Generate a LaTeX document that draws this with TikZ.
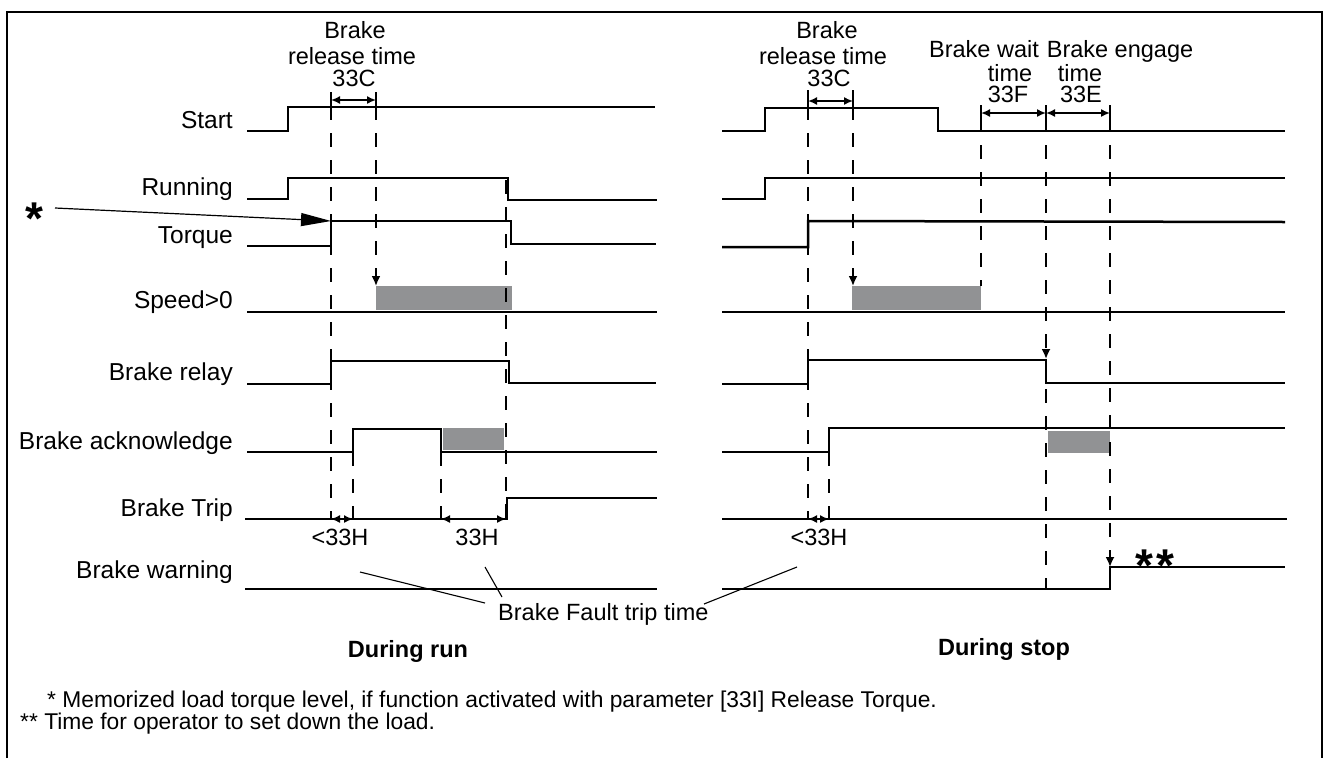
\documentclass[tikz,border=0pt]{standalone}
\usepackage{fontspec}
\setmainfont{Liberation Sans}
\newfontfamily\boldsans{Liberation Sans Bold}
\usetikzlibrary{arrows.meta}
\definecolor{boxgray}{RGB}{145,146,148}
\newcommand\lblfont{\fontsize{24.5}{28}\selectfont}
\newcommand\txfont{\fontsize{23.5}{28}\selectfont}
\newcommand\fnfont{\fontsize{22.8}{27}\selectfont}
\tikzset{
  sig/.style={line width=2.5pt, line join=miter},
  dsh/.style={line width=1.9pt, dash pattern=on 14pt off 13pt},
  dimarr/.style={line width=1.6pt, {Latex[length=9pt,width=8pt]}-{Latex[length=9pt,width=8pt]}},
  downarr/.style={line width=1.9pt, dash pattern=on 14pt off 13pt, -{Latex[length=10pt,width=9pt]}},
  tick/.style={line width=1.6pt},
  lbl/.style={font=\lblfont, anchor=base east, inner sep=0pt},
  tx/.style={font=\txfont, anchor=base, inner sep=0pt},
  txw/.style={font=\txfont, anchor=base west, inner sep=0pt},
  fnt/.style={font=\fnfont, anchor=base west, inner sep=0pt},
  ttl/.style={font={\boldsans\fontsize{23.5}{28}\selectfont}, anchor=base, inner sep=0pt},
  bigstar/.style={font={\boldsans\fontsize{46}{46}\selectfont}, anchor=base, inner sep=0pt},
  gbox/.style={fill=boxgray, draw=none},
  callout/.style={line width=1.1pt}
}
\begin{document}
\begin{tikzpicture}[x=1pt,y=-1pt]
\useasboundingbox (0,0) rectangle (1324,758);
% frame
\draw[line width=2.4pt] (7,758) -- (7,12) -- (1322,12) -- (1322,758);

% ---------- labels ----------
\node[lbl] (lStart) at (233,128) {Start};
\node[lbl] (lRun)   at (233,195) {Running};
\node[lbl] (lTq)    at (233,243) {Torque};
\node[lbl] (lSpd)   at (233,308) {Speed>0};
\node[lbl] (lRel)   at (233,380) {Brake relay};
\node[lbl] (lAck)   at (233,449) {Brake acknowledge};
\node[lbl] (lTrip)  at (233,516) {Brake Trip};
\node[lbl] (lWarn)  at (233,578) {Brake warning};

% ---------- left panel: boxes ----------
\fill[gbox] (376,286) rectangle (512,310);
\fill[gbox] (443,428) rectangle (504,450);

% left dashed lines
\draw[dsh] (331,106) -- (331,519);
\draw[downarr] (376,106) -- (376,286);
\draw[dsh] (353,452) -- (353,519);
\draw[dsh] (441,452) -- (441,519);
\draw[dsh] (506,180) -- (506,519);

% left signals
\draw[sig] (247,131) -| (288,107) -- (655,107);
\draw[sig] (247,199) -| (288,178) -| (508,200) -- (657,200);
\draw[sig] (247,246) -| (331,221) -| (511,244) -- (656,244);
\draw[sig] (247,312) -- (657,312);
\draw[sig] (247,384) -| (331,361) -| (509,383) -- (656,383);
\draw[sig] (247,452) -| (353,429) -| (441,452) -- (657,452);
\draw[sig] (245,519) -| (507,498) -- (657,498);
\draw[sig] (245,589) -- (657,589);

% left dimensions
\draw[tick] (331,92) -- (331,107);
\draw[tick] (376,92) -- (376,107);
\draw[dimarr] (331,100) -- (376,100);
\draw[dimarr] (331,519) -- (353,519);
\draw[dimarr] (441,519) -- (506,519);

% left texts
\node[tx] (tB1) at (355,38) {Brake};
\node[tx] (tR1) at (352,64) {release time};
\node[tx] (tC1) at (354,86) {33C};
\node[tx] (tH1) at (340,545) {<33H};
\node[tx] (tH2) at (477,545) {33H};

% star callout
\node[bigstar] (star) at (34,234) {*};
\coordinate (starfrom) at (55,208);
\coordinate (tqedge) at (331,221);
\draw[line width=1.2pt, -{Triangle[length=30pt,width=13pt]}] (starfrom) -- (tqedge);

% ---------- right panel ----------
\fill[gbox] (852,286) rectangle (981,310);
\fill[gbox] (1048,431) rectangle (1110,453);

\draw[dsh] (808,106) -- (808,519);
\draw[downarr] (853,106) -- (853,286);
\draw[dsh] (829,452) -- (829,519);
\draw[dsh] (981,118) -- (981,286);
\draw[downarr] (1046,118) -- (1046,359);
\draw[dsh] (1046,362) -- (1046,589);
\draw[downarr] (1110,118) -- (1110,567);

\draw[sig] (722,131) -| (765,108) -| (938,131) -- (1285,131);
\draw[sig] (722,199) -| (765,178) -- (1285,178);
\draw[sig] (722,247) -| (808,221) -- (1285,222);
\draw[sig] (722,312) -- (1285,312);
\draw[sig] (722,384) -| (808,360) -| (1046,383) -- (1285,383);
\draw[sig] (722,452) -| (829,428) -- (1285,428);
\draw[sig] (722,519) -- (1287,519);
\draw[sig] (722,589) -| (1110,567) -- (1285,567);

\draw[tick] (808,90) -- (808,108);
\draw[tick] (853,90) -- (853,108);
\draw[dimarr] (808,101) -- (853,101);
\draw[tick] (981,105) -- (981,121);
\draw[tick] (1046,105) -- (1046,121);
\draw[tick] (1110,105) -- (1110,121);
\draw[dimarr] (981,113) -- (1046,113);
\draw[dimarr] (1046,113) -- (1110,113);
\draw[dimarr] (808,519) -- (829,519);

\node[tx] (tB2) at (827,38) {Brake};
\node[tx] (tR2) at (823,64) {release time};
\node[tx] (tC2) at (829,86) {33C};
\node[tx] (tW1) at (984,57) {Brake wait};
\node[tx] (tW2) at (1010,81) {time};
\node[tx] (tF)  at (1008,102) {33F};
\node[tx] (tE1) at (1120,57) {Brake engage};
\node[tx] (tE2) at (1080,81) {time};
\node[tx] (tE)  at (1081,102) {33E};
\node[tx] (tH3) at (819,545) {<33H};
\node[bigstar] (star2) at (1155,581) {*\kern3pt*};

% ---------- callout ----------
\node[txw] (bft) at (498,620) {Brake Fault trip time};
\coordinate (c1a) at (360,572);
\coordinate (c1b) at (485,603);
\coordinate (c2a) at (485,567);
\coordinate (c2b) at (502,597);
\coordinate (c3a) at (797,567);
\coordinate (c3b) at (704,604);
\draw[callout] (c1a) -- (c1b);
\draw[callout] (c2a) -- (c2b);
\draw[callout] (c3a) -- (c3b);

% ---------- titles & footnotes ----------
\node[ttl] (drun)  at (408,657) {During run};
\node[ttl] (dstop) at (1004,655) {During stop};
\node[fnt] (fn1) at (47,707) {* Memorized load torque level, if function activated with parameter [33I] Release Torque.};
\node[fnt] (fn2) at (20,729) {** Time for operator to set down the load.};
\end{tikzpicture}
\end{document}
